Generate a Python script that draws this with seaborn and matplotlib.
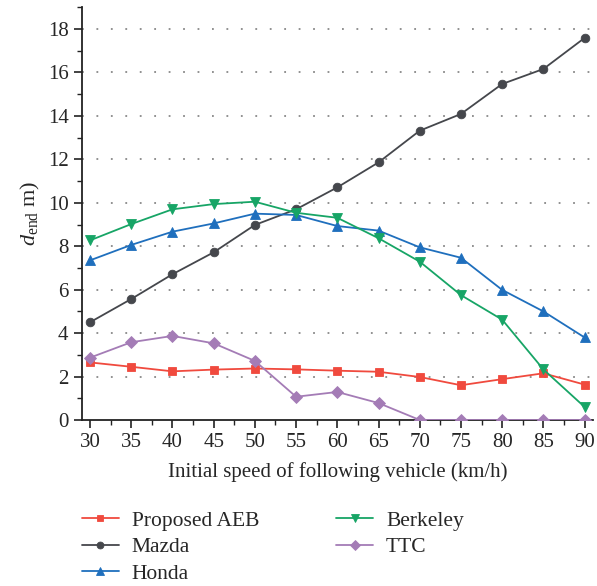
import numpy as np
import pandas as pd
import matplotlib
matplotlib.use("Agg")
import matplotlib.pyplot as plt
from matplotlib.ticker import MultipleLocator
import seaborn as sns

speeds = [30, 35, 40, 45, 50, 55, 60, 65, 70, 75, 80, 85, 90]
proposed = [2.65, 2.45, 2.24, 2.32, 2.37, 2.33, 2.27, 2.22, 1.98, 1.60, 1.88, 2.15, 1.63]
mazda = [4.50, 5.57, 6.71, 7.72, 8.98, 9.70, 10.71, 11.86, 13.32, 14.09, 15.47, 16.16, 17.59]
honda = [7.35, 8.06, 8.67, 9.05, 9.50, 9.44, 8.93, 8.72, 7.95, 7.47, 5.99, 5.00, 3.80]
berkeley = [8.27, 9.02, 9.70, 9.94, 10.05, 9.54, 9.31, 8.37, 7.29, 5.75, 4.62, 2.33, 0.60]
ttc = [2.87, 3.58, 3.87, 3.53, 2.72, 1.07, 1.29, 0.78, 0.0, 0.0, 0.0, 0.0, 0.0]

series = ["Proposed AEB", "Mazda", "Honda", "Berkeley", "TTC"]
values = [proposed, mazda, honda, berkeley, ttc]
colors = ["#f04a3e", "#45474c", "#1f6fbd", "#17a566", "#a47cb6"]
markers = ["s", "o", "^", "v", "D"]
sizes = [5.6, 6.2, 7.2, 7.2, 6.0]

df = pd.DataFrame({
    "speed": np.tile(speeds, len(series)),
    "d": np.concatenate(values),
    "method": np.repeat(series, len(speeds)),
})

sns.set_style("ticks")
plt.rcParams["font.family"] = ["Liberation Serif", "DejaVu Serif"]
plt.rcParams["mathtext.fontset"] = "custom"
plt.rcParams["mathtext.it"] = "Liberation Serif:italic"
plt.rcParams["mathtext.rm"] = "Liberation Serif"

fig = plt.figure(figsize=(5.97, 5.86), dpi=100)
ax = fig.add_axes([0.137, 0.2833, 0.856, 0.7042])

for name, col, mk, ms in zip(series, colors, markers, sizes):
    sub = df[df["method"] == name]
    sns.lineplot(data=sub, x="speed", y="d", ax=ax, color=col, marker=mk,
                 markersize=ms, markeredgecolor=col, markeredgewidth=0.6,
                 linewidth=1.3, label=name, zorder=3)

h, l = ax.get_legend_handles_labels()
ax.get_legend().remove()

ax.set_xlim(29, 91)
ax.set_ylim(0, 19)
ax.xaxis.set_major_locator(MultipleLocator(5))
ax.xaxis.set_minor_locator(MultipleLocator(2.5))
ax.yaxis.set_major_locator(MultipleLocator(2))
ax.yaxis.set_minor_locator(MultipleLocator(1))
ax.tick_params(which="major", length=6, width=1.2, labelsize=15, color="#222222")
ax.tick_params(which="minor", length=3.5, width=1.0, color="#222222")
for s in ["top", "right"]:
    ax.spines[s].set_visible(False)
for s in ["left", "bottom"]:
    ax.spines[s].set_linewidth(1.3)
    ax.spines[s].set_color("#222222")

for yv in range(2, 19, 2):
    ax.axhline(yv, color="#888888", linewidth=1.3, linestyle=(0, (1, 7)), zorder=1)

ax.set_xlabel("Initial speed of following vehicle (km/h)", fontsize=15, labelpad=7)
ax.set_ylabel(r"$d_{\mathrm{end}}$ m)", fontsize=16, labelpad=4)

leg = fig.legend(h, l, loc="upper left", bbox_to_anchor=(0.123, 0.143), ncol=2,
                 frameon=False, fontsize=15.5, handlelength=1.7, handletextpad=0.6,
                 columnspacing=3.6, labelspacing=0.3, borderaxespad=0,
                 markerscale=0.8)
fig.savefig("out.png", dpi=100)
